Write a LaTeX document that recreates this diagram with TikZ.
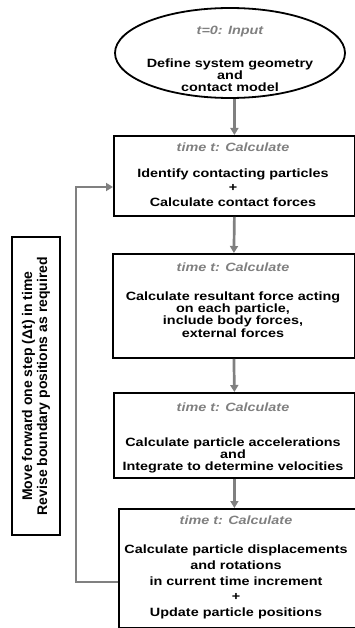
\documentclass[tikz,border=0pt]{standalone}
\usepackage{fontspec}
\setmainfont{Liberation Sans}
\newfontfamily\flowfont[FakeStretch=1.2]{Liberation Sans}
\usetikzlibrary{shapes.geometric,arrows.meta,positioning}
\definecolor{flowgray}{RGB}{128,128,128}
\tikzset{
  stepbox/.style={draw, line width=1.8pt, rectangle, anchor=north west, inner sep=0pt},
  steptitle/.style={text=flowgray, inner sep=0pt,
                    font=\flowfont\bfseries\itshape\fontsize{12}{14}\selectfont},
  steptext/.style={align=center, inner sep=0pt,
                   font=\flowfont\bfseries\fontsize{12}{#1}\selectfont},
  flow/.style={draw=flowgray, line width=2.7pt, -{Triangle[length=7pt,width=8pt]}}
}
\begin{document}
\begin{tikzpicture}[x=1pt, y=-1pt]
  \useasboundingbox (0,0) rectangle (355,628);
  % input
  \node[draw, ellipse, line width=1.8pt, minimum width=230pt, minimum height=90pt,
        inner sep=0pt] (input) at (230,53) {};
  \node[steptitle] (inputtitle) at (230,32) {t=0: Input};
  \node[steptext=12] (inputtext) at (230,75) {Define system geometry\\and\\contact model};
  % time steps
  \node[stepbox, minimum width=241pt, minimum height=80pt] (calc1) at (113,135) {};
  \node[steptitle] (title1) at (233,147) {time t: Calculate};
  \node[steptext=14.5] (text1) at (233,187.5) {Identify contacting particles\\+\\Calculate contact forces};

  \node[stepbox, minimum width=242pt, minimum height=104pt] (calc2) at (112,253) {};
  \node[steptitle] (title2) at (233,267) {time t: Calculate};
  \node[steptext=10.5] (text2) at (233,314.5) {Calculate resultant force acting\\on each particle,\\include body forces,\\external forces};

  \node[stepbox, minimum width=241pt, minimum height=85pt] (calc3) at (113,392) {};
  \node[steptitle] (title3) at (233,407) {time t: Calculate};
  \node[steptext=12] (text3) at (233,455) {Calculate particle accelerations\\and\\Integrate to determine velocities};

  \node[stepbox, minimum width=242pt, minimum height=119pt] (calc4) at (118,508) {};
  \node[steptitle] (title4) at (236,520) {time t: Calculate};
  \node[steptext=15.7] (text4) at (236,582) {Calculate particle displacements\\and rotations\\in current time increment\\+\\Update particle positions};
  % loop back
  \node[draw, line width=1.8pt, rotate=90, minimum width=298pt, minimum height=48pt,
        align=center, font=\bfseries\fontsize{14}{15}\selectfont] (timestep) at (36,386)
        {Move forward one step (Δt) in time\\Revise boundary positions as required};
  \coordinate (loopbot) at (76,582);
  \coordinate (looptop) at (76,187);

  \draw[flow] (calc1.north |- input.south) -- (calc1.north);
  \draw[flow] (calc1.south) -- (calc2.north);
  \draw[flow] (calc2.south) -- (calc3.north);
  \draw[flow] (calc3.south) -- (calc3.south |- calc4.north);
  \draw[flow] (calc4.west |- loopbot) -- (loopbot) -- (looptop) -- (calc1.west |- looptop);
\end{tikzpicture}
\end{document}
